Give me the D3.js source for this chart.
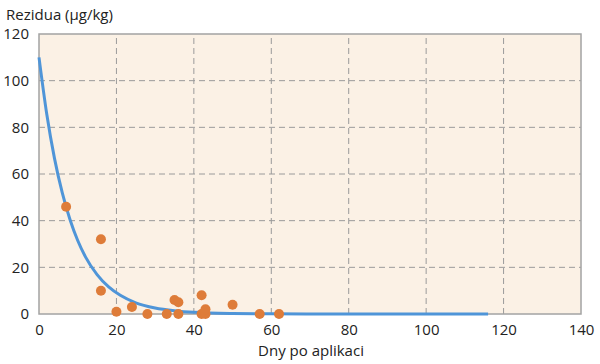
<!DOCTYPE html>
<html>
<head>
<meta charset="utf-8">
<script src="https://cdn.jsdelivr.net/npm/d3@7"></script>
<style>
  body { margin: 0; background: #fff; }
  text { font-family: "Open Sans", "Noto Sans", sans-serif; fill: #222; }
</style>
</head>
<body>
<script>
var width = 600, height = 364;

// data
var days = [7, 16, 16, 20, 24, 28, 33, 35, 36, 36, 42, 42, 43, 43, 50, 57, 62];
var residues = [46, 32, 10, 1, 3, 0, 0, 6, 5, 0, 8, 0, 0, 2, 4, 0, 0];
var curveDays = [0, 2, 4, 6, 8, 10, 12, 15, 18, 21, 25, 30, 35, 40, 50, 60, 80, 100, 116];
var curveVals = [110, 85.7, 66.7, 52, 40.5, 31.5, 24.5, 16.9, 11.6, 8, 4.8, 2.6, 1.4, 0.7, 0.2, 0.06, 0, 0, 0];
var xTicks = [0, 20, 40, 60, 80, 100, 120, 140];
var yTicks = [0, 20, 40, 60, 80, 100, 120];

var margin = {left: 39, right: 19, top: 34, bottom: 50};
var plotW = width - margin.left - margin.right,
    plotH = height - margin.top - margin.bottom;

var svg = d3.select("body").append("svg")
    .attr("width", width)
    .attr("height", height);

var x = d3.scaleLinear().domain([0, 140]).range([margin.left, margin.left + plotW]);
var y = d3.scaleLinear().domain([0, 120]).range([margin.top + plotH, margin.top]);

// plot background
svg.append("rect")
    .attr("x", x(0)).attr("y", y(120))
    .attr("width", x(140) - x(0)).attr("height", y(0) - y(120))
    .attr("fill", "#fbf1e5");

// dashed grid
svg.selectAll(".vgrid").data(xTicks.slice(1, -1)).enter().append("line")
    .attr("x1", d => x(d)).attr("x2", d => x(d))
    .attr("y1", y(0)).attr("y2", y(120))
    .attr("stroke", "#9a9a9a").attr("stroke-dasharray", "6,4");
svg.selectAll(".hgrid").data(yTicks.slice(1, -1)).enter().append("line")
    .attr("x1", x(0)).attr("x2", x(140))
    .attr("y1", d => y(d)).attr("y2", d => y(d))
    .attr("stroke", "#9a9a9a").attr("stroke-dasharray", "6,4");

// frame
svg.append("rect")
    .attr("x", x(0)).attr("y", y(120))
    .attr("width", x(140) - x(0)).attr("height", y(0) - y(120))
    .attr("fill", "none").attr("stroke", "#a3a3a3").attr("stroke-width", 1.5);

// axes (labels only)
var xAxis = svg.append("g")
    .attr("transform", "translate(0," + y(0) + ")")
    .call(d3.axisBottom(x).tickValues(xTicks).tickSize(0).tickPadding(10));
var yAxis = svg.append("g")
    .attr("transform", "translate(" + x(0) + ",0)")
    .call(d3.axisLeft(y).tickValues(yTicks).tickSize(0).tickPadding(10));
[xAxis, yAxis].forEach(function (g) {
    g.select(".domain").remove();
    g.selectAll("text").attr("font-size", 15).attr("fill", "#222")
        .style("font-family", "'Open Sans', 'Noto Sans', sans-serif");
});

// fitted curve
var line = d3.line()
    .x((d, i) => x(curveDays[i]))
    .y(d => y(d))
    .curve(d3.curveMonotoneX);
svg.append("path")
    .datum(curveVals)
    .attr("d", line)
    .attr("fill", "none")
    .attr("stroke", "#4f95d8")
    .attr("stroke-width", 3);

// measured points
svg.selectAll(".pt").data(residues).enter().append("circle")
    .attr("cx", (d, i) => x(days[i]))
    .attr("cy", d => y(d))
    .attr("r", 5)
    .attr("fill", "#de7c39");

// titles
svg.append("text")
    .attr("x", 6).attr("y", 20)
    .attr("font-size", 15)
    .text("Rezidua (µg/kg)");
svg.append("text")
    .attr("x", 311).attr("y", 356)
    .attr("text-anchor", "middle")
    .attr("font-size", 15)
    .text("Dny po aplikaci");
</script>
</body>
</html>
